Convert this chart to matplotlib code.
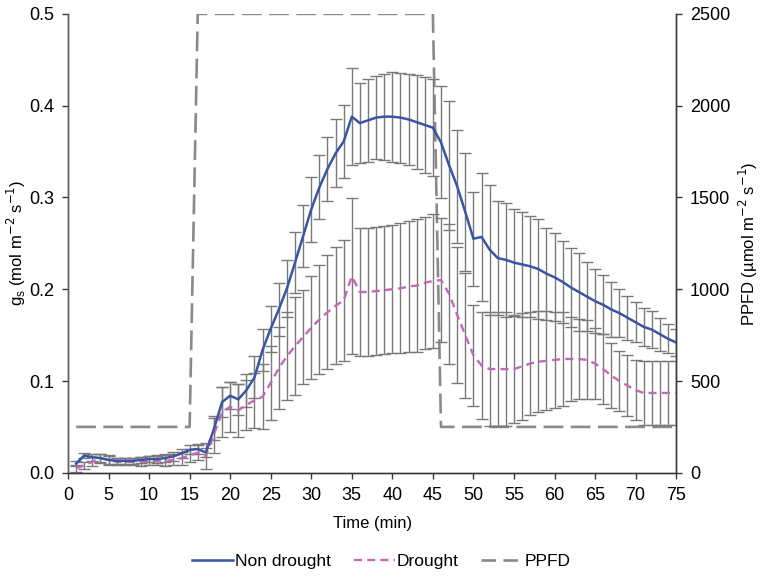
import matplotlib
matplotlib.use("Agg")
import matplotlib.pyplot as plt
from matplotlib.lines import Line2D

plt.rcParams['font.family'] = ['Liberation Sans', 'DejaVu Sans']

time_min = list(range(1, 76))

gs_non_drought = [
    0.010, 0.019, 0.017, 0.016, 0.014, 0.013, 0.013, 0.013, 0.014, 0.015,
    0.015, 0.016, 0.018, 0.021, 0.025, 0.026, 0.022, 0.048, 0.077, 0.084,
    0.080, 0.090, 0.104, 0.134, 0.157, 0.178, 0.201, 0.229, 0.258, 0.287,
    0.311, 0.331, 0.348, 0.361, 0.388, 0.381, 0.384, 0.387, 0.388, 0.388,
    0.387, 0.385, 0.382, 0.379, 0.376, 0.360, 0.335, 0.312, 0.284, 0.255,
    0.257, 0.243, 0.234, 0.232, 0.229, 0.227, 0.225, 0.222, 0.217, 0.213,
    0.208, 0.202, 0.197, 0.192, 0.187, 0.183, 0.178, 0.174, 0.169, 0.164,
    0.159, 0.156, 0.151, 0.146, 0.142]

err_non_drought = [
    0.003, 0.003, 0.004, 0.004, 0.004, 0.003, 0.003, 0.003, 0.003, 0.003,
    0.004, 0.004, 0.005, 0.005, 0.005, 0.005, 0.005, 0.012, 0.016, 0.015,
    0.017, 0.018, 0.023, 0.023, 0.025, 0.029, 0.031, 0.033, 0.034, 0.035,
    0.035, 0.035, 0.037, 0.040, 0.053, 0.044, 0.045, 0.045, 0.047, 0.049,
    0.049, 0.050, 0.051, 0.052, 0.053, 0.061, 0.070, 0.062, 0.064, 0.051,
    0.070, 0.071, 0.062, 0.062, 0.058, 0.057, 0.055, 0.054, 0.050, 0.048,
    0.045, 0.043, 0.042, 0.038, 0.035, 0.032, 0.030, 0.026, 0.024, 0.022,
    0.021, 0.020, 0.018, 0.016, 0.015]

gs_drought = [
    0.005, 0.008, 0.012, 0.016, 0.014, 0.012, 0.012, 0.012, 0.012, 0.013,
    0.013, 0.013, 0.014, 0.016, 0.019, 0.022, 0.018, 0.042, 0.066, 0.072,
    0.068, 0.074, 0.079, 0.083, 0.098, 0.114, 0.127, 0.138, 0.148, 0.158,
    0.167, 0.175, 0.182, 0.188, 0.214, 0.197, 0.197, 0.198, 0.199, 0.200,
    0.201, 0.203, 0.204, 0.207, 0.209, 0.210, 0.195, 0.172, 0.150, 0.128,
    0.117, 0.113, 0.113, 0.113, 0.113, 0.116, 0.119, 0.121, 0.122, 0.123,
    0.124, 0.124, 0.124, 0.123, 0.119, 0.113, 0.106, 0.100, 0.095, 0.090,
    0.087, 0.087, 0.087, 0.087, 0.087]

err_drought = [
    0.004, 0.004, 0.005, 0.005, 0.005, 0.004, 0.004, 0.004, 0.005, 0.005,
    0.005, 0.006, 0.006, 0.007, 0.007, 0.008, 0.014, 0.020, 0.027, 0.027,
    0.029, 0.027, 0.030, 0.035, 0.040, 0.045, 0.048, 0.053, 0.051, 0.056,
    0.059, 0.062, 0.064, 0.066, 0.085, 0.070, 0.070, 0.070, 0.070, 0.070,
    0.071, 0.071, 0.072, 0.072, 0.073, 0.068, 0.076, 0.074, 0.068, 0.055,
    0.058, 0.062, 0.062, 0.062, 0.059, 0.058, 0.056, 0.055, 0.054, 0.052,
    0.051, 0.046, 0.044, 0.043, 0.039, 0.038, 0.035, 0.033, 0.033, 0.033,
    0.035, 0.035, 0.035, 0.035, 0.035]

ppfd = [250] * 15 + [2500] * 30 + [250] * 30

x_ticks = list(range(0, 80, 5))
left_ticks = [0.0, 0.1, 0.2, 0.3, 0.4, 0.5]
right_ticks = [0, 500, 1000, 1500, 2000, 2500]

blue = '#3b54a4'
pink = '#c468b6'
grey_err = '#7a7a7a'
grey_ppfd = '#8a8a8a'
spine_c = '#3a3a3a'
fs_tick = 13
fs_label = 12
fs_leg = 12.5

fig = plt.figure(figsize=(7.64, 5.78), dpi=100)
ax = fig.add_axes([0.089, 0.182, 0.796, 0.794])
ax2 = ax.twinx()

# PPFD on the right axis, behind the data
ax2.plot(time_min, ppfd, color=grey_ppfd, lw=1.9, dashes=(7.5, 2.8), zorder=1)
ax2.set_ylim(0, 2500)
ax2.set_yticks(right_ticks)
ax2.set_ylabel('PPFD (µmol m$^{-2}$ s$^{-1}$)', fontsize=fs_label, labelpad=5)

ax.set_zorder(ax2.get_zorder() + 1)
ax.patch.set_visible(False)

ax.errorbar(time_min, gs_drought, yerr=err_drought, fmt='none',
            ecolor=grey_err, elinewidth=1.0, capsize=4.3, capthick=1.0, zorder=2)
ax.errorbar(time_min, gs_non_drought, yerr=err_non_drought, fmt='none',
            ecolor=grey_err, elinewidth=1.0, capsize=4.3, capthick=1.0, zorder=2)
ax.plot(time_min, gs_drought, color=pink, lw=1.7, dashes=(3.4, 2.2), zorder=3)
ax.plot(time_min, gs_non_drought, color=blue, lw=1.8, zorder=4)

ax.set_xlim(0, 75)
ax.set_ylim(0, 0.5)
ax.set_xticks(x_ticks)
ax.set_yticks(left_ticks)
ax.set_yticklabels([f'{v:.1f}' for v in left_ticks])
ax.set_xlabel('Time (min)', fontsize=fs_label, labelpad=9)
ax.set_ylabel('g$_\\mathregular{s}$ (mol m$^{-2}$ s$^{-1}$)', fontsize=fs_label, labelpad=1)

for a in (ax, ax2):
    a.spines['top'].set_visible(False)
    for s in ('left', 'right', 'bottom'):
        a.spines[s].set_color(spine_c)
        a.spines[s].set_linewidth(1.0)
    a.tick_params(labelsize=fs_tick, colors=spine_c, labelcolor='black',
                  length=4, width=1.0, direction='out', pad=6)
ax.spines['left'].set_color('#606060')
ax.tick_params(axis='y', pad=6)

handles = [
    Line2D([], [], color=blue, lw=1.8),
    Line2D([], [], color=pink, lw=1.7, dashes=(3.4, 2.2)),
    Line2D([], [], color=grey_ppfd, lw=1.9, dashes=(5.5, 2.8)),
]
fig.legend(handles, ['Non drought', 'Drought', 'PPFD'], loc='center',
           bbox_to_anchor=(0.499, 0.028), ncol=3, frameon=False,
           fontsize=fs_leg, handlelength=2.4, handletextpad=0.1,
           columnspacing=1.3)

fig.savefig('out.png', dpi=100)
